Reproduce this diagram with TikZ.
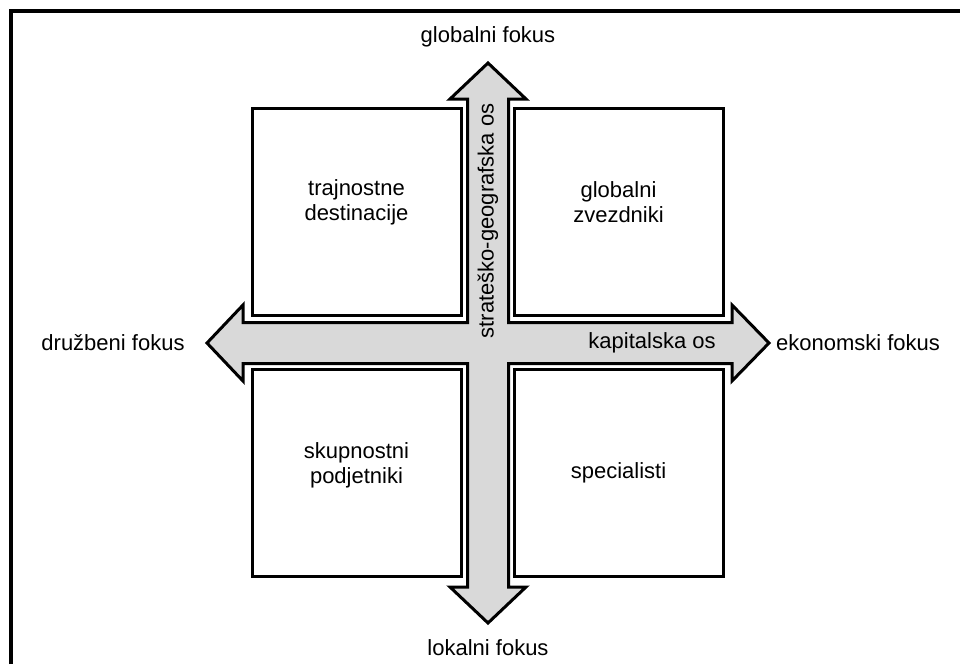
\documentclass[tikz,border=0pt]{standalone}
\usepackage{fontspec}
\setmainfont{Liberation Sans}
\begin{document}
\begin{tikzpicture}[x=1pt,y=-1pt,
  lbl/.style={font=\fontsize{22}{25}\selectfont, inner sep=0pt, align=center},
  quad/.style={draw, line width=3pt, fill=white, minimum width=209pt, minimum height=207pt, inner sep=0pt},
  axis/.style={draw, line width=3pt, fill=black!15, line join=miter}]
\useasboundingbox (0,0) rectangle (960,664);
% open frame (top and left edges)
\draw[line width=4pt] (11,664) -- (11,11) -- (960,11);

% quadrants
\node[quad] (tl) at (356.5,211.5) {};
\node[quad] (tr) at (618.5,211.5) {};
\node[quad] (bl) at (356.5,472.5) {};
\node[quad] (br) at (618.5,472.5) {};

% the two axes as one cross-shaped double arrow
\def\cx{488}\def\cy{343}\def\w{20.5}\def\h{38}
\path[axis]
  (\cx,63) -- (\cx+\h,99) -- (\cx+\w,99) -- (\cx+\w,\cy-\w) -- (732,\cy-\w) -- (732,\cy-\h)
  -- (769,\cy) -- (732,\cy+\h) -- (732,\cy+\w) -- (\cx+\w,\cy+\w) -- (\cx+\w,587) -- (\cx+\h,587)
  -- (\cx,623) -- (\cx-\h,587) -- (\cx-\w,587) -- (\cx-\w,\cy+\w) -- (243,\cy+\w) -- (243,\cy+\h)
  -- (207,\cy) -- (243,\cy-\h) -- (243,\cy-\w) -- (\cx-\w,\cy-\w) -- (\cx-\w,99) -- (\cx-\h,99) -- cycle;

% quadrant labels
\node[lbl] (tlt) at (356.5,202) {trajnostne\\destinacije};
\node[lbl] (trt) at (618.5,202) {globalni\\zvezdniki};
\node[lbl] (blt) at (356.5,465) {skupnostni\\podjetniki};
\node[lbl] (brt) at (618.5,473) {specialisti};

% axis labels
\node[lbl] (vax) at (488,221) [rotate=90] {strateško-geografska os};
\node[lbl] (hax) at (652,343) {kapitalska os};

% axis end labels
\node[lbl] (top) at (488,37) {globalni fokus};
\node[lbl] (bot) at (488,648) {lokalni fokus};
\node[lbl] (lft) at (113,343) {družbeni fokus};
\node[lbl] (rgt) at (858,343) {ekonomski fokus};
\end{tikzpicture}
\end{document}
